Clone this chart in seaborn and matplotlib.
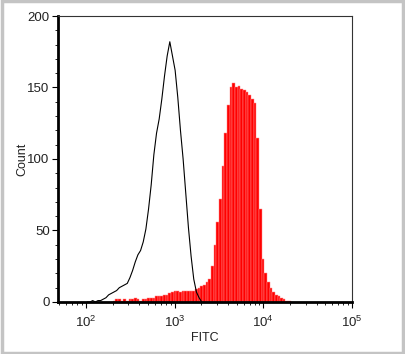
import numpy as np
import pandas as pd
import seaborn as sns
import matplotlib
matplotlib.use("Agg")
import matplotlib.pyplot as plt
from matplotlib.patches import Rectangle
from matplotlib.ticker import FixedLocator, FixedFormatter, LogLocator, NullFormatter, MultipleLocator

# ---- data (log10 bin centres, counts) ----
control_log = [2.015, 2.045, 2.075, 2.105, 2.135, 2.165, 2.195, 2.225, 2.255, 2.285,
               2.315, 2.345, 2.375, 2.405, 2.435, 2.465, 2.495, 2.525, 2.555, 2.585,
               2.615, 2.645, 2.675, 2.705, 2.735, 2.765, 2.795, 2.825, 2.855, 2.885,
               2.915, 2.945, 2.975, 3.005, 3.035, 3.065, 3.095, 3.125, 3.155, 3.185,
               3.215, 3.245, 3.275, 3.305]
control_count = [0, 0, 1, 0, 1, 1, 2, 3, 5, 6,
                 7, 8, 10, 11, 12, 13, 17, 22, 28, 33,
                 36, 42, 51, 65, 82, 103, 118, 128, 142, 158,
                 172, 182, 172, 162, 143, 120, 100, 76, 52, 32,
                 16, 7, 3, 0]

stained_log = [2.315, 2.345, 2.375, 2.405, 2.435, 2.465, 2.495, 2.525, 2.555, 2.585,
               2.615, 2.645, 2.675, 2.705, 2.735, 2.765, 2.795, 2.825, 2.855, 2.885,
               2.915, 2.945, 2.975, 3.005, 3.035, 3.065, 3.095, 3.125, 3.155, 3.185,
               3.215, 3.245, 3.275, 3.305, 3.335, 3.365, 3.395, 3.425, 3.455, 3.485,
               3.515, 3.545, 3.575, 3.605, 3.635, 3.665, 3.695, 3.725, 3.755, 3.785,
               3.815, 3.845, 3.875, 3.905, 3.935, 3.965, 3.995, 4.025, 4.055, 4.085,
               4.115, 4.145, 4.175, 4.205, 4.235, 4.265, 4.295]
stained_count = [1, 2, 2, 1, 2, 1, 2, 2, 3, 2,
                 1, 2, 2, 3, 3, 3, 4, 4, 4, 5,
                 5, 6, 7, 8, 8, 7, 8, 8, 8, 8,
                 8, 9, 10, 11, 12, 14, 16, 25, 40, 56,
                 72, 95, 118, 138, 150, 153, 150, 151, 149, 148,
                 147, 145, 142, 139, 115, 65, 30, 20, 14, 10,
                 7, 5, 4, 3, 2, 1, 1]

x_ticks = [1e2, 1e3, 1e4, 1e5]
x_tick_labels = [r"$\mathregular{10^{2}}$", r"$\mathregular{10^{3}}$",
                 r"$\mathregular{10^{4}}$", r"$\mathregular{10^{5}}$"]
y_ticks = [0, 50, 100, 150, 200]

ctrl = pd.DataFrame({"FITC": np.power(10.0, control_log), "w": control_count})
stn = pd.DataFrame({"FITC": np.power(10.0, stained_log), "w": stained_count})

sns.set_theme(style="white")
plt.rcParams["font.family"] = ["Liberation Sans", "DejaVu Sans"]
plt.rcParams["mathtext.fontset"] = "custom"
plt.rcParams["mathtext.rm"] = "Liberation Sans"

fig = plt.figure(figsize=(4.05, 3.54), dpi=100)
fig.patch.set_facecolor("white")
fig.add_artist(Rectangle((0.004, 0.004), 0.992, 0.992, transform=fig.transFigure,
                         fill=False, edgecolor="#c4c4c4", linewidth=2.5))
ax = fig.add_axes([0.1432, 0.1469, 0.7259, 0.8079])

sns.histplot(data=stn, x="FITC", weights="w", log_scale=True,
             binwidth=0.03, binrange=(2.30, 4.31), element="bars", fill=True,
             color="#ff0000", edgecolor="#ff8a8a", linewidth=0.35, alpha=1.0, ax=ax)
sns.histplot(data=ctrl, x="FITC", weights="w", log_scale=True,
             binwidth=0.03, binrange=(2.00, 3.32), element="poly", fill=False,
             color="black", linewidth=0.8, ax=ax)

ax.set_xlim(48.3, 1e5)
ax.set_ylim(0, 200)
ax.xaxis.set_major_locator(FixedLocator(x_ticks))
ax.xaxis.set_major_formatter(FixedFormatter(x_tick_labels))
ax.xaxis.set_minor_locator(LogLocator(base=10, subs=np.arange(2, 10)))
ax.xaxis.set_minor_formatter(NullFormatter())
ax.yaxis.set_major_locator(FixedLocator(y_ticks))
ax.yaxis.set_minor_locator(MultipleLocator(10))

ax.tick_params(axis="both", which="major", direction="out", length=4, width=0.8,
               colors="black", labelsize=9.5, labelcolor="#222222", pad=2,
               bottom=True, left=True)
ax.tick_params(axis="both", which="minor", direction="out", length=2, width=0.6,
               colors="black", bottom=True, left=True)
ax.tick_params(axis="x", which="major", pad=5)

for s in ["left", "bottom"]:
    ax.spines[s].set_linewidth(2.0)
    ax.spines[s].set_color("black")
for s in ["top", "right"]:
    ax.spines[s].set_linewidth(0.8)
    ax.spines[s].set_color("#333333")

ax.set_xlabel("FITC", fontsize=9, color="#222222", labelpad=2)
ax.set_ylabel("Count", fontsize=9, color="#222222", labelpad=-1)
ax.grid(False)

fig.savefig("out.png", dpi=100, facecolor="white")
